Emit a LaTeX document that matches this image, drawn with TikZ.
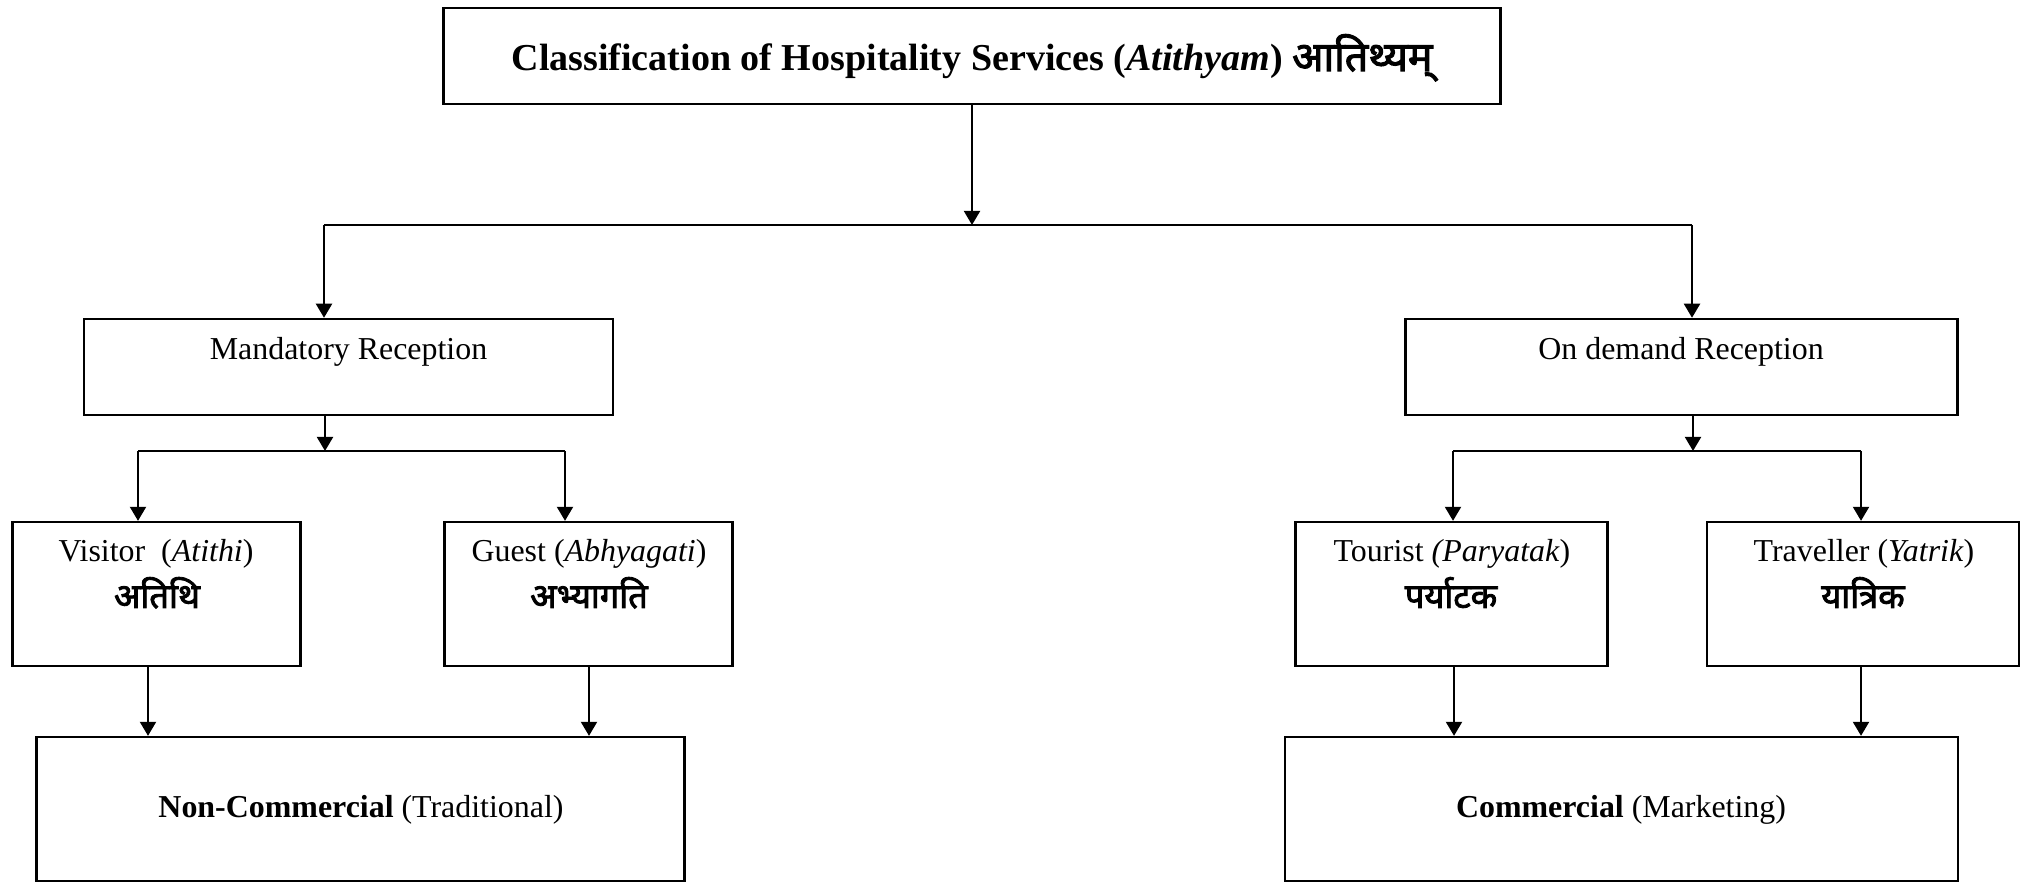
\documentclass[tikz,border=0pt]{standalone}
\usepackage{fontspec}
\setmainfont{Liberation Serif}
\newfontfamily\devfont[Script=Devanagari,Scale=1.08,FakeBold=2.5]{Noto Sans}
\usetikzlibrary{arrows.meta}

\begin{document}
\begin{tikzpicture}[x=.376pt,y=-.376pt]
          \tikzstyle{box}=[draw,rectangle,line width=.9pt,inner sep=0pt]
          \tikzstyle{txt}=[anchor=base,inner sep=0pt,font=\fontsize{12}{14}\selectfont]
          \tikzstyle{dtxt}=[anchor=base,inner sep=0pt,font=\fontsize{12}{14}\selectfont\devfont]
          \tikzstyle{line}=[draw,line width=.9pt]
          \tikzstyle{arr}=[line,-{Triangle[length=5.3pt,width=6pt]}]
          \useasboundingbox (0,0) rectangle (2032,883);
          % boxes
          \node[box,minimum width=397.4pt,minimum height=36.1pt] (top) at (972,56) {};
          \node[box,minimum width=198.9pt,minimum height=36.1pt] (mand) at (348.5,367) {};
          \node[box,minimum width=207.6pt,minimum height=36.1pt] (ondem) at (1681.5,367) {};
          \node[box,minimum width=108.3pt,minimum height=54.1pt] (visitor) at (156.5,594) {};
          \node[box,minimum width=108.3pt,minimum height=54.1pt] (guest) at (588.5,594) {};
          \node[box,minimum width=117.3pt,minimum height=54.1pt] (tourist) at (1451.5,594) {};
          \node[box,minimum width=117.3pt,minimum height=54.1pt] (traveller) at (1863,594) {};
          \node[box,minimum width=243.6pt,minimum height=54.1pt] (noncom) at (360.5,809) {};
          \node[box,minimum width=253.0pt,minimum height=54.1pt] (com) at (1621.5,809) {};
          % texts
          \node[txt,font=\fontsize{14.3}{17}\selectfont\bfseries] (toptxt) at (972,71)
            {Classification of Hospitality Services (\textit{Atithyam}) {\devfont आतिथ्यम्}};
          \node[txt] (mandtxt) at (348.5,359.5) {Mandatory Reception};
          \node[txt] (ondemtxt) at (1681,359.5) {On demand Reception};
          \node[txt] (visitortxt) at (156,562) {Visitor~ (\textit{Atithi})};
          \node[dtxt] (visitordev) at (157,608) {अतिथि};
          \node[txt] (guesttxt) at (589,562) {Guest (\textit{Abhyagati})};
          \node[dtxt] (guestdev) at (589,608) {अभ्यागति};
          \node[txt] (touristtxt) at (1452,562) {Tourist \textit{(Paryatak})};
          \node[dtxt] (touristdev) at (1451,608) {पर्याटक};
          \node[txt] (travellertxt) at (1864,562) {Traveller (\textit{Yatrik})};
          \node[dtxt] (travellerdev) at (1863,608) {यात्रिक};
          \node[txt] (noncomtxt) at (361,817) {\textbf{Non-Commercial} (Traditional)};
          \node[txt] (comtxt) at (1621,817) {\textbf{Commercial} (Marketing)};
          % connectors
          \coordinate (hub) at (972,225);
          \coordinate (hubl) at (324,225);
          \coordinate (hubr) at (1692,225);
          \coordinate (mhub) at (325,451);
          \coordinate (mhubl) at (138,451);
          \coordinate (mhubr) at (565,451);
          \coordinate (ohub) at (1693,451);
          \coordinate (ohubl) at (1453,451);
          \coordinate (ohubr) at (1861,451);
          \draw[arr] (top) -- (hub);
          \draw[line] (hubl) -- (hubr);
          \draw[arr] (hubl) -- (hubl |- mand.north);
          \draw[arr] (hubr) -- (hubr |- ondem.north);
          \draw[arr] (mhub |- mand.south) -- (mhub);
          \draw[line] (mhubl) -- (mhubr);
          \draw[arr] (mhubl) -- (mhubl |- visitor.north);
          \draw[arr] (mhubr) -- (mhubr |- guest.north);
          \draw[arr] (ohub |- ondem.south) -- (ohub);
          \draw[line] (ohubl) -- (ohubr);
          \draw[arr] (ohubl) -- (ohubl |- tourist.north);
          \draw[arr] (ohubr) -- (ohubr |- traveller.north);
          \foreach \a/\b/\x in {visitor/noncom/148,guest/noncom/589,tourist/com/1454,traveller/com/1861}{
            \draw[arr] (\x,0 |- \a.south) -- (\x,0 |- \b.north);
            }
\end{tikzpicture}
\end{document}
